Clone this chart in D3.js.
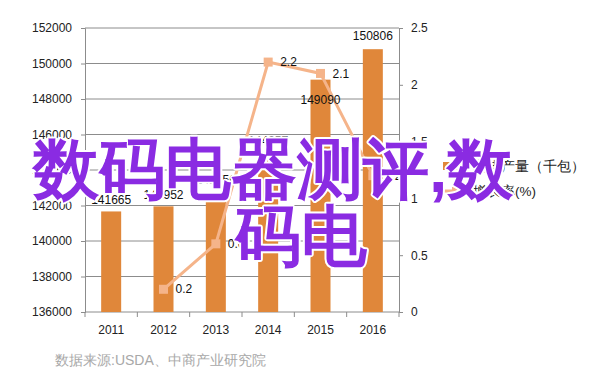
<!DOCTYPE html>
<html>
<head>
<meta charset="utf-8">
<script src="https://cdn.jsdelivr.net/npm/d3@7"></script>
<style>
  body { margin: 0; background: #fff; }
  text { font-family: "Liberation Sans", Arial, sans-serif; }
</style>
</head>
<body>
<svg id="chart"></svg>
<script>
// Chart data
const years = ["2011", "2012", "2013", "2014", "2015", "2016"];
const output = [141665, 141952, 142756, 144957, 149090, 150806];   // 咖啡产量（千包）
const growth = [null, 0.2, 0.6, 2.2, 2.1, 1.2];                     // 增长率(%)
const leftTicks = [136000, 138000, 140000, 142000, 144000, 146000, 148000, 150000, 152000];
const rightTicks = [0, 0.5, 1, 1.5, 2, 2.5];
const legendNames = ["咖啡产量（千包）", "增长率(%)"];
const sourceNote = "数据来源:USDA、中商产业研究院";
const overlayLines = ["数码电器测评,数", "码电"];

// nudge for bar labels (2015 label sits inside the bar)
const barLabelDy = [-12, -12, -12, -12, 20, -13];

const W = 602, H = 384;
let margin = {top: 28, right: 203, bottom: 72, left: 85},
    width = W - margin.left - margin.right,
    height = H - margin.top - margin.bottom;

const barColor = "#E0873A", lineColor = "#F5B48A", gridColor = "#8c8c8c";

let svg = d3.select("#chart").attr("width", W).attr("height", H);
let g = svg.append("g").attr("transform", "translate(" + margin.left + "," + margin.top + ")");

let x = d3.scaleBand().domain(years).range([0, width]);
let y = d3.scaleLinear().domain([136000, 152000]).range([height, 0]);
let y2 = d3.scaleLinear().domain([0, 2.5]).range([height, 0]);

// gridlines
g.selectAll(".grid").data(leftTicks.slice(1)).enter().append("line")
    .attr("x1", 0).attr("x2", width)
    .attr("y1", d => y(d)).attr("y2", d => y(d))
    .attr("stroke", gridColor).attr("stroke-width", 1);

// left axis
let yAxis = g.append("g").call(d3.axisLeft(y).tickValues(leftTicks).tickSize(4).tickPadding(9).tickFormat(d3.format("d")));
// right axis
let y2Axis = g.append("g").attr("transform", "translate(" + width + ",0)")
    .call(d3.axisRight(y2).tickValues(rightTicks).tickSize(4).tickPadding(8).tickFormat(d3.format("")));
// bottom axis: ticks at category boundaries
let bottom = g.append("g").attr("transform", "translate(0," + height + ")");
bottom.append("line").attr("x1", 0).attr("x2", width).attr("stroke", gridColor);
bottom.selectAll(".bt").data(d3.range(years.length + 1)).enter().append("line")
    .attr("x1", i => i * x.step()).attr("x2", i => i * x.step())
    .attr("y1", 0).attr("y2", 5).attr("stroke", gridColor);
bottom.selectAll(".bl").data(years).enter().append("text")
    .attr("x", d => x(d) + x.bandwidth() / 2).attr("y", 22)
    .attr("text-anchor", "middle").attr("font-size", 12).attr("fill", "#222").text(d => d);

[yAxis, y2Axis].forEach(a => {
  a.select(".domain").attr("stroke", gridColor);
  a.selectAll(".tick line").attr("stroke", gridColor);
  a.selectAll(".tick text").attr("font-size", 12).attr("fill", "#222")
    .attr("font-family", "Liberation Sans, Arial, sans-serif");
});

// bars
const bw = 20;
g.selectAll(".bar").data(output).enter().append("rect")
    .attr("x", (d, i) => x(years[i]) + x.bandwidth() / 2 - bw / 2)
    .attr("y", d => y(d)).attr("width", bw).attr("height", d => height - y(d))
    .attr("fill", barColor);

// growth line
let pts = growth.map((v, i) => ({year: years[i], v: v})).filter(d => d.v !== null);
let line = d3.line().x(d => x(d.year) + x.bandwidth() / 2).y(d => y2(d.v));
g.append("path").datum(pts).attr("d", line)
    .attr("fill", "none").attr("stroke", lineColor).attr("stroke-width", 3);
g.selectAll(".pt").data(pts).enter().append("rect")
    .attr("x", d => x(d.year) + x.bandwidth() / 2 - 4.5).attr("y", d => y2(d.v) - 4.5)
    .attr("width", 9).attr("height", 9).attr("fill", lineColor);

// bar labels
g.selectAll(".bv").data(output).enter().append("text")
    .attr("x", (d, i) => x(years[i]) + x.bandwidth() / 2)
    .attr("y", (d, i) => y(d) + barLabelDy[i]).attr("dy", "0.35em")
    .attr("text-anchor", "middle").attr("font-size", 12).attr("fill", "#111").text(d => d);

// line labels
g.selectAll(".lv").data(pts).enter().append("text")
    .attr("x", d => x(d.year) + x.bandwidth() / 2 + 12).attr("y", d => y2(d.v)).attr("dy", "0.35em")
    .attr("font-size", 12).attr("fill", "#111").text(d => d.v);

// legend
let lg = svg.append("g").attr("transform", "translate(443,166)");
lg.append("rect").attr("x", 0).attr("y", -4).attr("width", 25).attr("height", 8).attr("fill", barColor);
lg.append("line").attr("x1", 0).attr("x2", 27).attr("y1", 25).attr("y2", 25)
    .attr("stroke", lineColor).attr("stroke-width", 3);
lg.append("rect").attr("x", 9).attr("y", 21).attr("width", 8).attr("height", 8).attr("fill", lineColor);
lg.selectAll(".lt").data(legendNames).enter().append("text")
    .attr("x", 30).attr("y", (d, i) => i * 25).attr("dy", "0.35em")
    .attr("font-size", 13.5).attr("fill", "#222")
    .attr("font-family", "Noto Sans CJK SC, sans-serif").text(d => d);

// source note
svg.append("text").attr("x", 55).attr("y", 365)
    .attr("font-size", 14).attr("fill", "#a8a8a8")
    .attr("font-family", "Noto Sans CJK SC, sans-serif").text(sourceNote);

// overlay text
let ov = svg.append("g");
ov.selectAll("text").data(overlayLines).enter().append("text")
    .attr("x", (d, i) => i === 0 ? 33 : 235)
    .attr("y", (d, i) => 192 + i * 67)
    .attr("font-size", 66).attr("font-weight", "bold")
    .attr("font-family", "Noto Sans CJK SC, sans-serif")
    .attr("fill", "#8A2BE2").attr("stroke", "#fff").attr("stroke-width", 4)
    .attr("paint-order", "stroke").attr("stroke-linejoin", "round")
    .text(d => d);
</script>
</body>
</html>
